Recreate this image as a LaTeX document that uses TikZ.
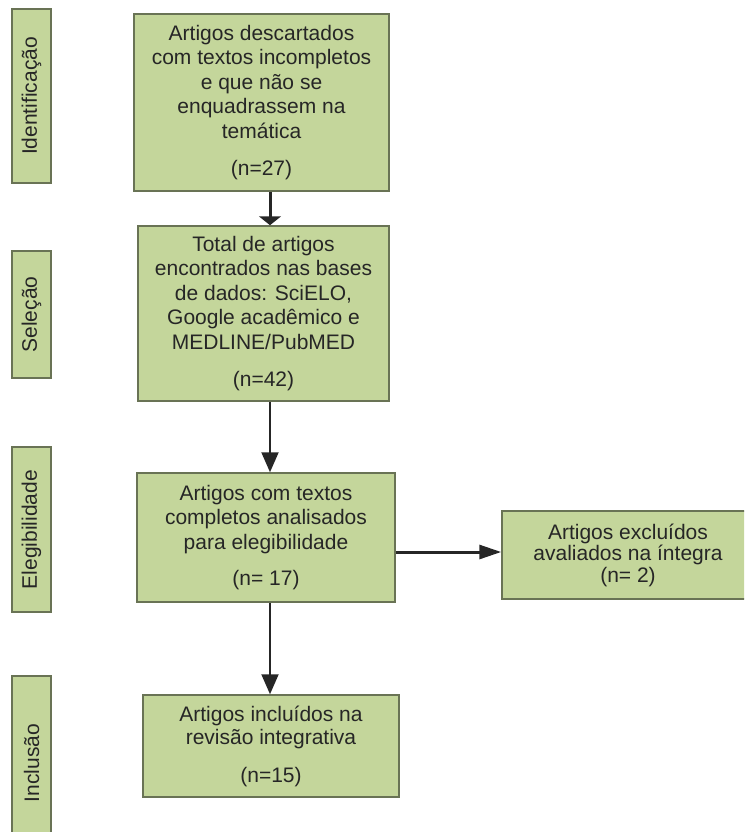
\documentclass[tikz,border=0pt]{standalone}
\usepackage{fontspec}
\setmainfont{Liberation Sans}
\usetikzlibrary{arrows.meta}

\definecolor{caixa}{RGB}{196,214,155}
\definecolor{borda}{RGB}{105,115,85}

\begin{document}
\begin{tikzpicture}[x=1pt,y=-1pt]
	\tikzstyle{every node}+=[inner sep=0pt]
	\tikzstyle{caixa}=[draw=borda,fill=caixa,line width=1.5pt,align=center,text=black!85,font=\fontsize{21}{24.5}\selectfont]
	\tikzstyle{fase}=[caixa,rotate=90,minimum height=39pt]
	\tikzstyle{seta}=[line width=2pt,black!85,-{Triangle[width=17pt,length=20pt]}]
	\useasboundingbox (0,0) rectangle (744,832);
	\clip (0,0) rectangle (744,832);
	% fases
	\node [fase,minimum width=174pt] (id) at (31.5,96) {Identificação};
	\node [fase,minimum width=127pt] (sel) at (31.5,314.5) {Seleção};
	\node [fase,minimum width=165pt] (ele) at (31.5,529.5) {Elegibilidade};
	\node [fase,minimum width=174pt] (inc) at (31.5,763) {Inclusão};
	% caixas
	\node [caixa,minimum width=255pt,minimum height=177pt] (b1) at (261.5,102.5)
		{Artigos descartados\\com textos incompletos\\e que não se\\enquadrassem na\\temática\\[13pt](n=27)};
	\node [caixa,minimum width=251pt,minimum height=175pt] (b2) at (263.5,313.5)
		{Total de artigos\\encontrados nas bases\\de dados: SciELO,\\Google acadêmico e\\MEDLINE/PubMED\\[13pt](n=42)};
	\node [caixa,minimum width=258pt,minimum height=129pt] (b3) at (266,537.5)
		{Artigos com textos\\completos analisados\\para elegibilidade\\[12pt](n= 17)};
	\node [caixa,minimum width=252pt,minimum height=88pt,font=\fontsize{21}{21.5}\selectfont] (b4) at (628,555)
		{Artigos excluídos\\avaliados na íntegra\\(n= 2)};
	\node [caixa,minimum width=256pt,minimum height=102pt,font=\fontsize{21}{23}\selectfont] (b5) at (271,746)
		{Artigos incluídos na\\revisão integrativa\\[15pt](n=15)};
	% setas
	\coordinate (eixo) at (270,0);
	\draw [seta,line width=3pt,-{Triangle[width=22pt,length=9pt]}] (b1.south -| eixo) -- (b2.north -| eixo);
	\draw [seta] (b2.south -| eixo) -- (b3.north -| eixo);
	\draw [seta] (b3.south -| eixo) -- (b5.north -| eixo);
	\draw [seta,line width=3pt,-{Triangle[width=14pt,length=22pt]}] (b3.east |- 0,552) -- (b4.west |- 0,552);
\end{tikzpicture}
\end{document}
